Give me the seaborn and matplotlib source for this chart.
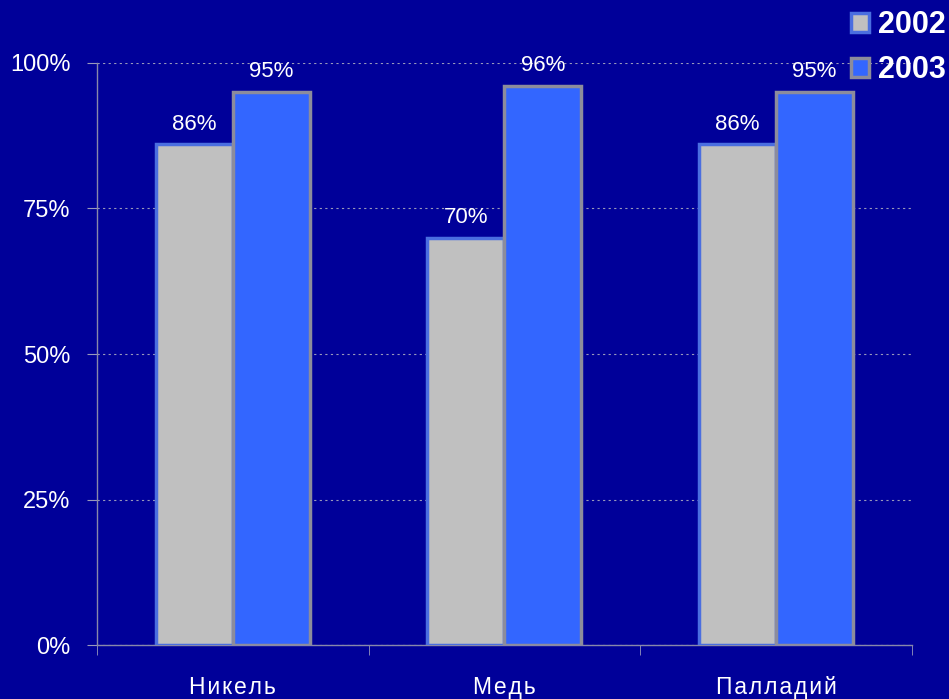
import matplotlib
matplotlib.use("Agg")
import matplotlib.pyplot as plt
import seaborn as sns
import pandas as pd

# data
metals = ["Никель", "Медь", "Палладий"]
years = ["2002", "2003"]
share_2002 = [0.86, 0.70, 0.86]
share_2003 = [0.95, 0.96, 0.95]

bg = "#000099"
colors = {"2002": "#c0c0c0", "2003": "#3366ff"}
edges = {"2002": "#4a6ee0", "2003": "#8c8c9c"}

df = pd.DataFrame({
    "metal": metals * 2,
    "year": [years[0]] * 3 + [years[1]] * 3,
    "share": share_2002 + share_2003,
})

sns.set_style("white")
plt.rcParams["font.family"] = ["Liberation Sans", "DejaVu Sans"]

fig = plt.figure(figsize=(9.49, 6.99), dpi=100, facecolor=bg)
ax = fig.add_axes([0.102, 0.077, 0.859, 0.833])
ax.set_facecolor(bg)

sns.barplot(data=df, x="metal", y="share", hue="year", hue_order=years,
            palette=colors, width=0.567, ax=ax, legend=False, saturation=1)

# edge colours per series
for cont, yr in zip(ax.containers, years):
    for p in cont:
        p.set_edgecolor(edges[yr])
        p.set_linewidth(2.5)
        p.set_zorder(3)
    ax.bar_label(cont, labels=[f"{v*100:.0f}%" for v in cont.datavalues],
                 padding=7, color="white", fontsize=16)

ax.set_ylim(0, 1.0)
ax.set_xlim(-0.5, 2.5)
ax.set_yticks([0, 0.25, 0.5, 0.75, 1.0])
ax.set_yticklabels(["0%", "25%", "50%", "75%", "100%"], color="white", fontsize=17)
ax.set_xticks([0, 1, 2])
sp = "\u200a"
ax.set_xticklabels([sp.join(m) for m in metals], color="white", fontsize=16.5)
ax.set_xticks([-0.5, 0.5, 1.5, 2.5], minor=True)
ax.tick_params(axis="x", which="major", bottom=False, length=0, pad=22)
ax.tick_params(axis="x", which="minor", bottom=True, length=7, color="#9999bb", direction="out")
ax.tick_params(axis="y", left=True, length=7, color="#9999bb", direction="out", pad=12)
ax.set_xlabel("")
ax.set_ylabel("")

ax.yaxis.grid(True, linestyle=(0, (2, 3)), color="#9999bb", linewidth=0.8)
ax.set_axisbelow(True)
for s in ["top", "right"]:
    ax.spines[s].set_visible(False)
for s in ["left", "bottom"]:
    ax.spines[s].set_color("#8888aa")
    ax.spines[s].set_linewidth(1)

# legend
handles = [plt.Rectangle((0, 0), 1, 1, facecolor=colors[y], edgecolor=edges[y], linewidth=2.5)
           for y in years]
leg = fig.legend(handles, years, loc="upper right", bbox_to_anchor=(1.026, 1.025),
                 frameon=False, handlelength=0.6, handleheight=0.6,
                 handletextpad=0.3, labelspacing=0.5, labelcolor="white",
                 prop={"weight": "bold", "size": 22})

fig.savefig("out.png", dpi=100, facecolor=bg)
